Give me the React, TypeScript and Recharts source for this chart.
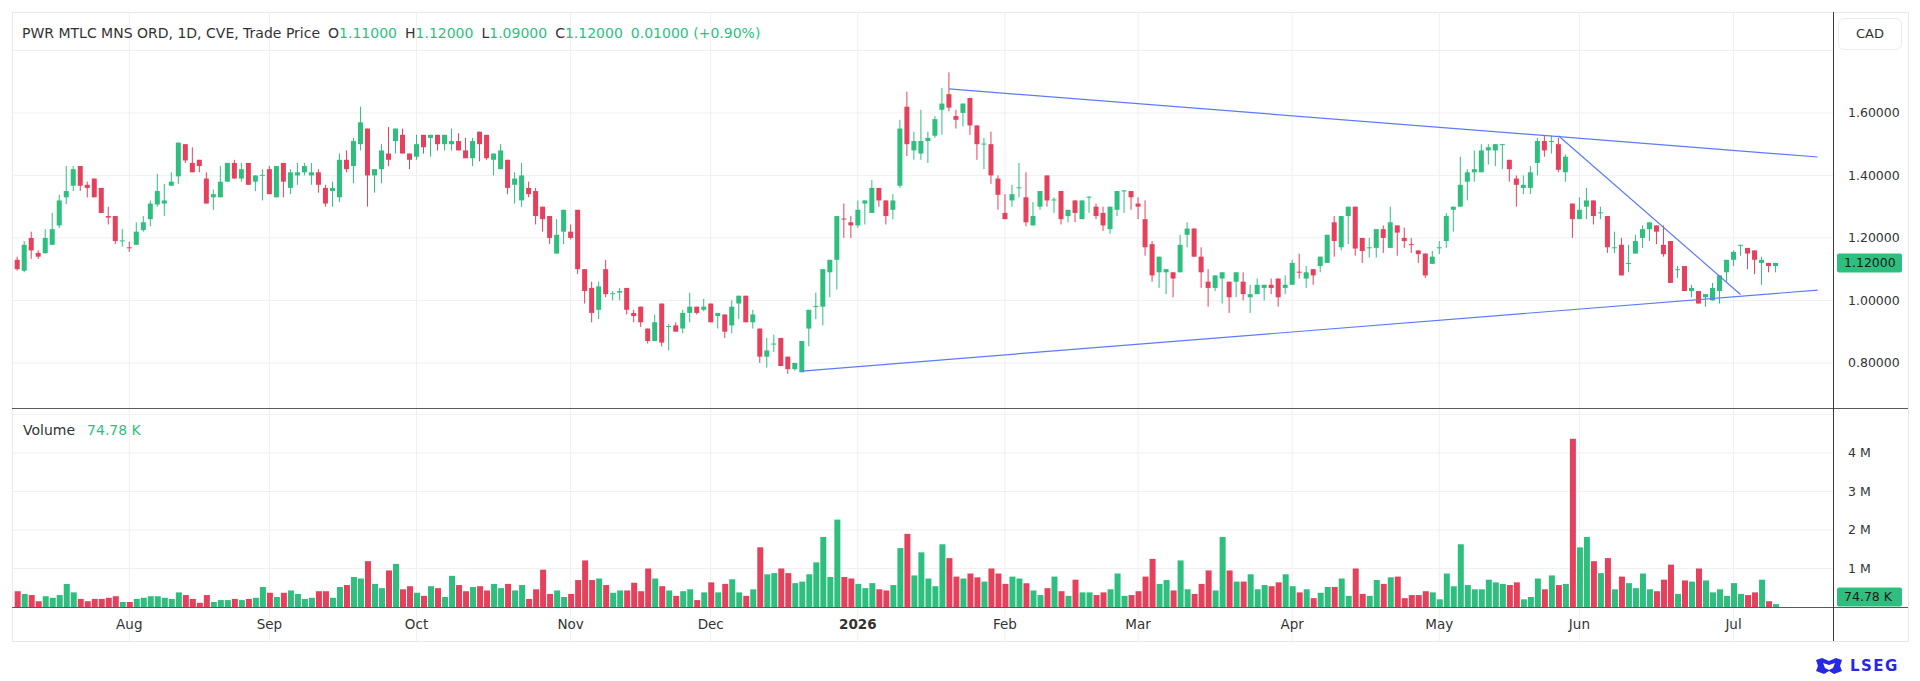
import React from "react";
import {
  ComposedChart,
  Bar,
  XAxis,
  YAxis,
  CartesianGrid,
  ReferenceLine,
  Cell,
} from "recharts";

const UP = "#2ebf7f";
const DOWN = "#e5415c";
const TEXT = "#333333";
const GRID = "#f0f0f0";
const TREND = "#5b7cf6";
const FONT = "'DejaVu Sans', sans-serif";

// daily sessions, 10 Jul 2025 .. 10 Jul 2026 (index = session number)
const OPEN = [
  1.13, 1.095, 1.2, 1.152, 1.151, 1.178, 1.24, 1.33, 1.367, 1.43,
  1.37, 1.39, 1.36, 1.27, 1.27, 1.19, 1.17, 1.178, 1.225, 1.26,
  1.307, 1.31, 1.367, 1.397, 1.5, 1.44, 1.45, 1.39, 1.33, 1.33,
  1.38, 1.44, 1.39, 1.44, 1.38, 1.4, 1.42, 1.33, 1.44, 1.36,
  1.4, 1.41, 1.4, 1.41, 1.36, 1.35, 1.33, 1.45, 1.43, 1.5,
  1.55, 1.4, 1.42, 1.47, 1.51, 1.53, 1.47, 1.46, 1.53, 1.52,
  1.53, 1.5, 1.5, 1.51, 1.48, 1.455, 1.54, 1.53, 1.45, 1.42,
  1.45, 1.37, 1.32, 1.36, 1.35, 1.3, 1.27, 1.15, 1.22, 1.22,
  1.29, 1.1, 1.04, 0.97, 1.1, 1.02, 1.025, 1.04, 0.96, 0.98,
  0.91, 0.87, 0.99, 0.915, 0.92, 0.91, 0.96, 0.98, 0.97, 0.99,
  0.95, 0.955, 0.92, 0.99, 1.015, 0.93, 0.91, 0.82, 0.86, 0.88,
  0.82, 0.78, 0.77, 0.91, 0.98, 0.98, 1.09, 1.13, 1.262, 1.25,
  1.24, 1.31, 1.28, 1.36, 1.32, 1.29, 1.367, 1.62, 1.48, 1.47,
  1.51, 1.527, 1.61, 1.66, 1.59, 1.6, 1.648, 1.56, 1.5, 1.5,
  1.39, 1.28, 1.32, 1.36, 1.33, 1.24, 1.3, 1.4, 1.32, 1.35,
  1.27, 1.32, 1.26, 1.33, 1.3, 1.28, 1.228, 1.29, 1.35, 1.35,
  1.31, 1.26, 1.18, 1.09, 1.09, 1.09, 1.09, 1.21, 1.23, 1.14,
  1.06, 1.04, 1.07, 1.06, 1.06, 1.06, 1.01, 1.02, 1.04, 1.05,
  1.07, 1.04, 1.05, 1.092, 1.07, 1.1, 1.11, 1.12, 1.25, 1.17,
  1.27, 1.3, 1.2, 1.168, 1.168, 1.228, 1.168, 1.24, 1.2, 1.18,
  1.16, 1.15, 1.117, 1.168, 1.19, 1.29, 1.3, 1.38, 1.41, 1.41,
  1.48, 1.48, 1.497, 1.45, 1.39, 1.36, 1.36, 1.44, 1.51, 1.508,
  1.5, 1.41, 1.31, 1.26, 1.3, 1.32, 1.28, 1.27, 1.168, 1.178,
  1.118, 1.15, 1.2, 1.228, 1.24, 1.178, 1.19, 1.098, 1.11, 1.03,
  1.03, 1.01, 1.0, 1.03, 1.09, 1.13, 1.175, 1.168, 1.16, 1.12,
  1.12, 1.11,
];

const HIGH = [
  1.14, 1.19, 1.22, 1.16, 1.228, 1.28, 1.338, 1.43, 1.43, 1.43,
  1.38, 1.39, 1.36, 1.3, 1.27, 1.228, 1.188, 1.25, 1.27, 1.32,
  1.405, 1.373, 1.41, 1.505, 1.5, 1.49, 1.45, 1.41, 1.355, 1.43,
  1.44, 1.45, 1.44, 1.44, 1.4, 1.42, 1.43, 1.43, 1.44, 1.42,
  1.44, 1.44, 1.44, 1.42, 1.37, 1.38, 1.47, 1.48, 1.52, 1.62,
  1.55, 1.42, 1.5, 1.555, 1.55, 1.55, 1.47, 1.53, 1.53, 1.53,
  1.53, 1.53, 1.55, 1.535, 1.52, 1.52, 1.54, 1.53, 1.47, 1.5,
  1.45, 1.41, 1.44, 1.38, 1.36, 1.3, 1.27, 1.26, 1.29, 1.243,
  1.29, 1.1, 1.06, 1.06, 1.13, 1.03, 1.04, 1.04, 0.97, 0.98,
  0.91, 0.955, 0.99, 0.925, 0.93, 0.97, 1.025, 0.98, 1.005, 0.99,
  0.96, 0.955, 1.0, 1.015, 1.015, 0.97, 0.91, 0.88, 0.89, 0.88,
  0.82, 0.8, 0.87, 0.97, 1.025, 1.1, 1.13, 1.27, 1.31, 1.27,
  1.32, 1.32, 1.385, 1.36, 1.32, 1.34, 1.578, 1.668, 1.54, 1.61,
  1.54, 1.59, 1.68, 1.73, 1.61, 1.63, 1.648, 1.56, 1.52, 1.54,
  1.4, 1.34, 1.37, 1.44, 1.41, 1.315, 1.35, 1.4, 1.33, 1.35,
  1.29, 1.32, 1.32, 1.333, 1.31, 1.3, 1.3, 1.35, 1.353, 1.35,
  1.33, 1.32, 1.19, 1.14, 1.1, 1.09, 1.21, 1.25, 1.23, 1.17,
  1.1, 1.08, 1.09, 1.06, 1.09, 1.09, 1.05, 1.07, 1.05, 1.07,
  1.07, 1.08, 1.13, 1.15, 1.11, 1.1, 1.14, 1.21, 1.27, 1.27,
  1.3, 1.3, 1.2, 1.2, 1.228, 1.24, 1.3, 1.24, 1.233, 1.2,
  1.16, 1.15, 1.158, 1.19, 1.28, 1.3, 1.46, 1.42, 1.48, 1.5,
  1.5, 1.5, 1.5, 1.45, 1.4, 1.4, 1.43, 1.52, 1.527, 1.527,
  1.52, 1.467, 1.31, 1.33, 1.36, 1.32, 1.3, 1.27, 1.22, 1.2,
  1.178, 1.21, 1.24, 1.25, 1.24, 1.24, 1.19, 1.11, 1.11, 1.05,
  1.03, 1.02, 1.056, 1.08, 1.13, 1.16, 1.178, 1.168, 1.16, 1.14,
  1.12, 1.12,
];

const LOW = [
  1.095, 1.09, 1.133, 1.133, 1.15, 1.178, 1.232, 1.308, 1.35, 1.35,
  1.33, 1.33, 1.28, 1.243, 1.18, 1.172, 1.155, 1.178, 1.22, 1.237,
  1.3, 1.27, 1.367, 1.373, 1.44, 1.41, 1.41, 1.31, 1.29, 1.33,
  1.38, 1.39, 1.38, 1.37, 1.35, 1.32, 1.34, 1.33, 1.33, 1.34,
  1.37, 1.4, 1.37, 1.345, 1.3, 1.3, 1.315, 1.41, 1.375, 1.48,
  1.3, 1.345, 1.375, 1.43, 1.47, 1.47, 1.42, 1.45, 1.47, 1.46,
  1.48, 1.48, 1.48, 1.48, 1.455, 1.43, 1.445, 1.45, 1.4, 1.42,
  1.34, 1.31, 1.3, 1.33, 1.243, 1.22, 1.18, 1.15, 1.18, 1.195,
  1.085, 0.99, 0.93, 0.94, 1.01, 1.0, 1.0, 0.955, 0.93, 0.915,
  0.862, 0.87, 0.853, 0.84, 0.9, 0.895, 0.93, 0.955, 0.965, 0.93,
  0.91, 0.88, 0.895, 0.94, 0.93, 0.91, 0.8, 0.785, 0.835, 0.79,
  0.765, 0.775, 0.77, 0.853, 0.94, 0.92, 1.01, 1.035, 1.2, 1.2,
  1.232, 1.243, 1.28, 1.3, 1.243, 1.26, 1.36, 1.462, 1.45, 1.45,
  1.44, 1.52, 1.53, 1.605, 1.55, 1.557, 1.53, 1.45, 1.42, 1.373,
  1.29, 1.26, 1.3, 1.33, 1.237, 1.24, 1.29, 1.3, 1.28, 1.243,
  1.25, 1.25, 1.26, 1.28, 1.26, 1.222, 1.213, 1.27, 1.28, 1.29,
  1.26, 1.143, 1.06, 1.04, 1.02, 1.01, 1.09, 1.17, 1.14, 1.04,
  0.98, 1.03, 0.99, 0.96, 1.01, 1.0, 0.96, 1.02, 1.0, 1.02,
  0.98, 1.02, 1.05, 1.07, 1.04, 1.05, 1.09, 1.12, 1.14, 1.16,
  1.18, 1.143, 1.12, 1.137, 1.137, 1.152, 1.168, 1.143, 1.168, 1.152,
  1.12, 1.072, 1.117, 1.148, 1.168, 1.22, 1.3, 1.32, 1.38, 1.41,
  1.435, 1.43, 1.42, 1.38, 1.3, 1.34, 1.34, 1.4, 1.46, 1.47,
  1.41, 1.38, 1.2, 1.26, 1.26, 1.243, 1.26, 1.152, 1.152, 1.08,
  1.09, 1.15, 1.168, 1.19, 1.18, 1.14, 1.056, 1.072, 1.03, 1.01,
  0.99, 0.98, 1.0, 0.99, 1.06, 1.11, 1.143, 1.1, 1.084, 1.05,
  1.09, 1.09,
];

const CLOSE = [
  1.1, 1.178, 1.16, 1.14, 1.2, 1.228, 1.32, 1.35, 1.42, 1.367,
  1.36, 1.33, 1.28, 1.265, 1.19, 1.192, 1.168, 1.22, 1.25, 1.31,
  1.35, 1.32, 1.38, 1.505, 1.448, 1.41, 1.43, 1.31, 1.34, 1.38,
  1.44, 1.39, 1.42, 1.37, 1.4, 1.402, 1.34, 1.43, 1.38, 1.41,
  1.41, 1.43, 1.41, 1.37, 1.31, 1.36, 1.45, 1.42, 1.51, 1.57,
  1.4, 1.42, 1.48, 1.45, 1.55, 1.47, 1.45, 1.5, 1.49, 1.53,
  1.5, 1.53, 1.51, 1.48, 1.455, 1.51, 1.5, 1.455, 1.47, 1.48,
  1.36, 1.39, 1.4, 1.34, 1.27, 1.26, 1.2, 1.21, 1.29, 1.2,
  1.1, 1.03, 0.96, 1.045, 1.02, 1.023, 1.03, 0.97, 0.95, 0.93,
  0.87, 0.93, 0.865, 0.918, 0.9, 0.96, 0.98, 0.96, 0.98, 0.93,
  0.96, 0.9, 0.98, 1.015, 0.93, 0.955, 0.82, 0.84, 0.862, 0.79,
  0.78, 0.8, 0.87, 0.97, 0.982, 1.1, 1.13, 1.27, 1.26, 1.24,
  1.29, 1.32, 1.36, 1.32, 1.27, 1.32, 1.55, 1.5, 1.51, 1.51,
  1.52, 1.58, 1.63, 1.617, 1.578, 1.63, 1.56, 1.5, 1.502, 1.4,
  1.338, 1.26, 1.34, 1.362, 1.25, 1.27, 1.35, 1.32, 1.323, 1.26,
  1.29, 1.28, 1.32, 1.332, 1.27, 1.24, 1.3, 1.35, 1.352, 1.33,
  1.3, 1.17, 1.08, 1.14, 1.1, 1.07, 1.178, 1.23, 1.14, 1.09,
  1.04, 1.08, 1.09, 1.01, 1.09, 1.02, 1.02, 1.05, 1.05, 1.04,
  1.01, 1.05, 1.12, 1.09, 1.09, 1.08, 1.14, 1.21, 1.19, 1.27,
  1.3, 1.166, 1.158, 1.17, 1.228, 1.2, 1.25, 1.217, 1.19, 1.178,
  1.148, 1.08, 1.14, 1.17, 1.27, 1.3, 1.37, 1.41, 1.42, 1.48,
  1.49, 1.5, 1.5, 1.42, 1.37, 1.37, 1.41, 1.51, 1.48, 1.51,
  1.418, 1.46, 1.26, 1.29, 1.32, 1.27, 1.282, 1.17, 1.17, 1.08,
  1.12, 1.19, 1.228, 1.25, 1.22, 1.148, 1.056, 1.1, 1.03, 1.04,
  0.99, 1.02, 1.04, 1.08, 1.13, 1.155, 1.178, 1.15, 1.13, 1.13,
  1.11, 1.12,
];

// volume in millions of shares
const VOLUME_M = [
  0.41, 0.34, 0.31, 0.15, 0.28, 0.24, 0.31, 0.6, 0.38, 0.21,
  0.15, 0.21, 0.21, 0.24, 0.28, 0.13, 0.13, 0.21, 0.24, 0.28,
  0.28, 0.24, 0.21, 0.38, 0.31, 0.21, 0.11, 0.31, 0.13, 0.18,
  0.18, 0.21, 0.18, 0.21, 0.24, 0.52, 0.37, 0.26, 0.37, 0.43,
  0.34, 0.21, 0.24, 0.41, 0.41, 0.24, 0.52, 0.57, 0.78, 0.74,
  1.19, 0.6, 0.49, 0.95, 1.12, 0.46, 0.54, 0.37, 0.29, 0.54,
  0.49, 0.26, 0.81, 0.57, 0.41, 0.52, 0.54, 0.43, 0.6, 0.49,
  0.6, 0.43, 0.57, 0.21, 0.46, 0.97, 0.34, 0.43, 0.26, 0.34,
  0.7, 1.21, 0.7, 0.74, 0.57, 0.37, 0.43, 0.43, 0.63, 0.41,
  1.0, 0.74, 0.54, 0.43, 0.29, 0.41, 0.46, 0.18, 0.38, 0.64,
  0.38, 0.6, 0.72, 0.38, 0.29, 0.46, 1.55, 0.85, 0.88, 1.0,
  0.88, 0.62, 0.66, 0.85, 1.16, 1.82, 0.78, 2.27, 0.78, 0.74,
  0.6, 0.49, 0.62, 0.46, 0.43, 0.57, 1.53, 1.9, 0.82, 1.42,
  0.74, 0.54, 1.63, 1.27, 0.79, 0.74, 0.87, 0.77, 0.66, 1.0,
  0.87, 0.6, 0.79, 0.74, 0.62, 0.43, 0.31, 0.49, 0.79, 0.41,
  0.29, 0.71, 0.38, 0.38, 0.31, 0.38, 0.46, 0.87, 0.29, 0.31,
  0.41, 0.79, 1.25, 0.6, 0.7, 0.43, 1.21, 0.46, 0.34, 0.6,
  0.95, 0.43, 1.82, 0.95, 0.66, 0.66, 0.85, 0.46, 0.57, 0.54,
  0.64, 0.85, 0.54, 0.38, 0.46, 0.23, 0.37, 0.52, 0.52, 0.74,
  0.29, 1.0, 0.34, 0.29, 0.7, 0.6, 0.77, 0.79, 0.23, 0.31,
  0.31, 0.41, 0.38, 0.2, 0.87, 0.54, 1.63, 0.57, 0.46, 0.46,
  0.71, 0.64, 0.6, 0.57, 0.64, 0.2, 0.26, 0.74, 0.46, 0.82,
  0.57, 0.6, 4.37, 1.55, 1.82, 1.19, 0.88, 1.27, 0.46, 0.79,
  0.62, 0.49, 0.87, 0.46, 0.41, 0.71, 1.1, 0.34, 0.69, 0.66,
  1.0, 0.69, 0.38, 0.46, 0.29, 0.62, 0.34, 0.31, 0.38, 0.71,
  0.15, 0.07478,
];

// first session of each month
const MONTH_TICKS = [16, 36, 57, 79, 99, 120, 141, 160, 182, 203, 223, 245];
const MONTH_LABELS = ["Aug", "Sep", "Oct", "Nov", "Dec", "2026", "Feb", "Mar", "Apr", "May", "Jun", "Jul"];

const PRICE_TICKS = [0.8, 1.0, 1.2, 1.4, 1.6];
const PRICE_GRID = [0.8, 1.0, 1.2, 1.4, 1.6, 1.8];
const VOLUME_TICKS = [1, 2, 3, 4];
const VOLUME_GRID = [1, 2, 3, 4, 5];

// hand-drawn trend lines (session index, price)
const TREND_TOP = [{ x: 133, y: 1.677 }, { x: 257, y: 1.459 }];
const TREND_BOTTOM = [{ x: 112, y: 0.774 }, { x: 257, y: 1.033 }];
const TREND_DOWN = [{ x: 220, y: 1.527 }, { x: 246, y: 1.019 }];

const X_DOMAIN = [-0.6, 259.2];
const PRICE_DOMAIN = [0.6525, 1.923];
const VOLUME_DOMAIN = [0, 5.143];

const rows = OPEN.map((o, i) => ({
  i,
  o,
  h: HIGH[i],
  l: LOW[i],
  c: CLOSE[i],
  v: VOLUME_M[i],
}));

const last = rows.length - 1;
const change = CLOSE[last] - CLOSE[last - 1];
const changePct = (change / CLOSE[last - 1]) * 100;

function Candle(props: any) {
  const { x, y, width, height, payload } = props;
  const { o, h, l, c } = payload;
  const color = c >= o ? UP : DOWN;
  const span = h - l;
  const toY = (p: number) => (span > 0 ? y + ((h - p) / span) * height : y);
  const top = toY(Math.max(o, c));
  const bottom = toY(Math.min(o, c));
  const cx = x + width / 2;
  return (
    <g>
      <line x1={cx} x2={cx} y1={y} y2={y + height} stroke={color} strokeWidth={1} />
      <rect x={x} y={top} width={width} height={Math.max(1, bottom - top)} fill={color} />
    </g>
  );
}

function MonthTick(props: any) {
  const { x, y, payload } = props;
  const label = MONTH_LABELS[MONTH_TICKS.indexOf(payload.value)];
  return (
    <g>
      <line x1={x} x2={x} y1={y} y2={y + 34} stroke={GRID} />
      <text
        x={x}
        y={y + 18}
        textAnchor="middle"
        dominantBaseline="middle"
        fontSize={13.5}
        fontFamily={FONT}
        fontWeight={label === "2026" ? 700 : 400}
        fill={TEXT}
      >
        {label}
      </text>
    </g>
  );
}

// green tag on the right axis
function axisTag(text: string, lift: number) {
  return (props: any) => {
    const vb = props.viewBox;
    const tx = vb.x + vb.width + 4;
    const ty = vb.y - 9.5 - lift;
    return (
      <g>
        <rect x={tx} y={ty} width={65} height={19} rx={2} fill={UP} />
        <text
          x={tx + 7}
          y={ty + 10}
          dominantBaseline="middle"
          fontSize={12.5}
          fontFamily={FONT}
          fill="#1a1a1a"
        >
          {text}
        </text>
      </g>
    );
  };
}

const axisTick = { fontSize: 12.5, fill: TEXT, fontFamily: FONT };

function Header() {
  const val = (v: number) => <span style={{ color: UP }}>{v.toFixed(5)}</span>;
  const gap = { marginLeft: 8 };
  return (
    <div
      style={{
        position: "absolute",
        left: 22,
        top: 23,
        fontFamily: FONT,
        fontSize: 14,
        lineHeight: "20px",
        color: TEXT,
        whiteSpace: "nowrap",
      }}
    >
      PWR MTLC MNS ORD, 1D, CVE, Trade Price
      <span style={gap}>O{val(OPEN[last])}</span>
      <span style={gap}>H{val(HIGH[last])}</span>
      <span style={gap}>L{val(LOW[last])}</span>
      <span style={gap}>C{val(CLOSE[last])}</span>
      <span style={{ ...gap, color: UP }}>
        {change.toFixed(5)} ({change >= 0 ? "+" : ""}
        {changePct.toFixed(2)}%)
      </span>
    </div>
  );
}

export default function App() {
  const hLine = (top: number) => ({
    position: "absolute" as const,
    left: 12,
    top,
    width: 1896,
    height: 1,
    background: "#5a5a5a",
  });

  return (
    <div
      style={{
        position: "absolute",
        left: 0,
        top: 0,
        width: 1920,
        height: 681,
        background: "#fff",
        overflow: "hidden",
      }}
    >
      <div
        style={{
          position: "absolute",
          left: 12,
          top: 12,
          width: 1895,
          height: 628,
          border: "1px solid #e8e8e8",
        }}
      />

      <div style={{ position: "absolute", left: 0, top: 0 }}>
        <ComposedChart width={1920} height={409} data={rows} margin={{ top: 12, right: 0, bottom: 0, left: 13 }}>
          <CartesianGrid stroke={GRID} horizontalValues={PRICE_GRID} verticalValues={MONTH_TICKS} />
          <XAxis dataKey="i" type="number" domain={X_DOMAIN} ticks={MONTH_TICKS} allowDataOverflow hide />
          <YAxis
            orientation="right"
            width={87}
            domain={PRICE_DOMAIN}
            ticks={PRICE_TICKS}
            interval={0}
            allowDataOverflow
            axisLine={false}
            tickLine={false}
            tickSize={0}
            tickMargin={15}
            tick={axisTick}
            tickFormatter={(v: number) => v.toFixed(5)}
          />
          <Bar
            dataKey={(d: any) => [d.l, d.h]}
            barSize={5}
            shape={<Candle />}
            isAnimationActive={false}
          />
          <ReferenceLine segment={TREND_TOP} stroke={TREND} strokeWidth={1.2} />
          <ReferenceLine segment={TREND_BOTTOM} stroke={TREND} strokeWidth={1.2} />
          <ReferenceLine segment={TREND_DOWN} stroke={TREND} strokeWidth={1.2} />
          <ReferenceLine y={CLOSE[last]} stroke="none" label={axisTag(CLOSE[last].toFixed(5), 0)} />
        </ComposedChart>
      </div>

      <div style={{ position: "absolute", left: 0, top: 409 }}>
        <ComposedChart width={1920} height={232} data={rows} margin={{ top: 0, right: 0, bottom: 0, left: 13 }}>
          <CartesianGrid stroke={GRID} horizontalValues={VOLUME_GRID} verticalValues={MONTH_TICKS} />
          <XAxis
            dataKey="i"
            type="number"
            domain={X_DOMAIN}
            ticks={MONTH_TICKS}
            interval={0}
            allowDataOverflow
            height={34}
            axisLine={false}
            tickLine={false}
            tickSize={0}
            tickMargin={0}
            tick={<MonthTick />}
          />
          <YAxis
            orientation="right"
            width={87}
            domain={VOLUME_DOMAIN}
            ticks={VOLUME_TICKS}
            interval={0}
            allowDataOverflow
            axisLine={false}
            tickLine={false}
            tickSize={0}
            tickMargin={15}
            tick={axisTick}
            tickFormatter={(v: number) => `${v} M`}
          />
          <Bar dataKey="v" barSize={6} isAnimationActive={false}>
            {rows.map((r) => (
              <Cell key={r.i} fill={r.c >= r.o ? UP : DOWN} />
            ))}
          </Bar>
          <ReferenceLine
            y={VOLUME_M[last]}
            stroke="none"
            label={axisTag(`${(VOLUME_M[last] * 1000).toFixed(2)} K`, 7)}
          />
        </ComposedChart>
      </div>

      <Header />

      <div
        style={{
          position: "absolute",
          left: 23,
          top: 420,
          fontFamily: FONT,
          fontSize: 14,
          lineHeight: "20px",
          color: TEXT,
        }}
      >
        Volume
        <span style={{ color: UP, marginLeft: 12 }}>{(VOLUME_M[last] * 1000).toFixed(2)} K</span>
      </div>

      <div
        style={{
          position: "absolute",
          left: 1838,
          top: 18,
          width: 62,
          height: 30,
          border: "1px solid #ececec",
          borderRadius: 6,
          fontFamily: FONT,
          fontSize: 13,
          lineHeight: "30px",
          textAlign: "center",
          color: TEXT,
        }}
      >
        CAD
      </div>

      <div style={hLine(408)} />
      <div style={hLine(607)} />
      <div
        style={{
          position: "absolute",
          left: 1833,
          top: 12,
          width: 1,
          height: 629,
          background: "#3a3a3a",
        }}
      />

      <div
        style={{
          position: "absolute",
          left: 1814,
          top: 657,
          display: "flex",
          alignItems: "center",
          gap: 6,
        }}
      >
        <svg width={30} height={18} viewBox="0 0 30 18">
          <path d="M2 3 L8 1 L15 4 L22 1 L28 3 L26 9 L28 14 L20 17 L15 14 L10 17 L2 14 L4 9 Z" fill="#2727e8" />
          <path d="M9 6 L15 8 L21 6 L19 11 L15 13 L11 11 Z" fill="#ffffff" />
        </svg>
        <span
          style={{
            fontFamily: FONT,
            fontWeight: 700,
            fontSize: 15,
            letterSpacing: 1.5,
            color: "#2727e8",
          }}
        >
          LSEG
        </span>
      </div>
    </div>
  );
}
